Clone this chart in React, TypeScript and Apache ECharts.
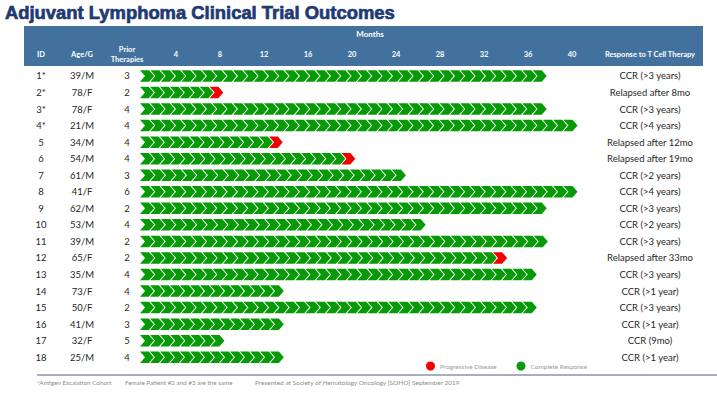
import React, { useEffect, useRef } from "react";
import * as echarts from "echarts";

// ---- data ----
const IDS = ["1*", "2*", "3*", "4*", "5", "6", "7", "8", "9", "10", "11", "12", "13", "14", "15", "16", "17", "18"];
const AGE_G = ["39/M", "78/F", "78/F", "21/M", "34/M", "54/M", "61/M", "41/F", "62/M", "53/M", "39/M", "65/F", "35/M", "73/F", "50/F", "41/M", "32/F", "25/M"];
const PRIOR_THERAPIES = [3, 2, 4, 4, 4, 4, 3, 6, 2, 4, 2, 2, 4, 4, 2, 3, 5, 4];
const RESPONSE = [
  "CCR (>3 years)", "Relapsed after 8mo", "CCR (>3 years)", "CCR (>4 years)",
  "Relapsed after 12mo", "Relapsed after 19mo", "CCR (>2 years)", "CCR (>4 years)",
  "CCR (>3 years)", "CCR (>2 years)", "CCR (>3 years)", "Relapsed after 33mo",
  "CCR (>3 years)", "CCR (>1 year)", "CCR (>3 years)", "CCR (>1 year)",
  "CCR (9mo)", "CCR (>1 year)",
];
// end of follow-up (months, read on the header's month scale)
const FOLLOW_UP_END = [37.7, 8.3, 37.7, 40.5, 13.7, 20.3, 24.9, 40.5, 37.7, 26.7, 37.8, 34.1, 36.8, 13.8, 36.8, 13.8, 8.4, 13.8];
// 1 = progressive disease at the end of follow-up
const PROGRESSED = [0, 1, 0, 0, 1, 1, 0, 0, 0, 0, 0, 1, 0, 0, 0, 0, 0, 0];
const FOLLOW_UP_START = 0.73;
const MONTH_MAX = 40;
const MONTH_STEP = 4;
const CHEVRON_MONTHS = 0.935;

const GREEN = "#069A06";
const RED = "#F20000";
const HEADER = "#41719C";
const FONT = "'Liberation Sans Narrow', Lato, 'Noto Sans', sans-serif";

function makeRender(part: "green" | "red") {
  return (params: any, api: any) => {
    const row = api.value(0);
    const end = api.value(1);
    const prog = api.value(2);
    const s = api.coord([FOLLOW_UP_START, row]);
    const e = api.coord([end, row]);
    const band = api.size([0, 1])[1];
    const h = Math.min(11.5, band * 0.7);
    const d = 5;
    const g = 1.3;
    const wTarget = api.size([CHEVRON_MONTHS, 0])[0];
    const span = e[0] - s[0] - d + g;
    const n = Math.max(1, Math.round(span / wTarget));
    const w = span / n;
    const cy = s[1];
    const children: any[] = [];
    for (let k = 0; k < n; k++) {
      const isLast = k === n - 1;
      const red = isLast && prog === 1;
      if ((part === "red") !== red) continue;
      const xs = s[0] + k * w;
      children.push({
        type: "polygon",
        shape: {
          points: [
            [xs, cy - h / 2],
            [xs + w - g, cy - h / 2],
            [xs + w - g + d, cy],
            [xs + w - g, cy + h / 2],
            [xs, cy + h / 2],
            [xs + d, cy],
          ],
        },
        style: { fill: part === "red" ? RED : GREEN },
      });
    }
    return { type: "group", children };
  };
}

export default function App() {
  const ref = useRef<HTMLDivElement>(null);
  useEffect(() => {
    if (!ref.current) return;
    const chart = echarts.init(ref.current, null, { renderer: "svg" });
    const rows = IDS.map((_, i) => [i, FOLLOW_UP_END[i], PROGRESSED[i]]);
    const gridTop = 67.7;
    const gridBottom = 28.5;
    const labelStyle = { color: "#262626", fontSize: 9.5, fontFamily: FONT };
    const yBase = {
      type: "category",
      inverse: true,
      axisLine: { show: false },
      axisTick: { show: false },
      splitLine: { show: false },
    };
    const option: any = {
      animation: false,
      backgroundColor: "#ffffff",
      grid: { left: 132, width: 440, top: gridTop, bottom: gridBottom },
      xAxis: {
        type: "value",
        position: "top",
        min: 0,
        max: MONTH_MAX,
        interval: MONTH_STEP,
        z: 10,
        axisLine: { show: false },
        axisTick: { show: false },
        splitLine: { show: false },
        axisLabel: {
          margin: 9,
          color: "#ffffff",
          fontWeight: "bold",
          fontSize: 7.5,
          fontFamily: FONT,
          formatter: (v: number) => (v === 0 ? "" : String(v)),
        },
      },
      yAxis: [
        { ...yBase, data: IDS, position: "left", axisLabel: { ...labelStyle, align: "center", margin: 91 } },
        { ...yBase, data: AGE_G, position: "left", axisLabel: { ...labelStyle, align: "center", margin: 50 } },
        { ...yBase, data: PRIOR_THERAPIES.map(String), position: "left", axisLabel: { ...labelStyle, align: "center", margin: 5 } },
        { ...yBase, data: RESPONSE, position: "right", axisLabel: { ...labelStyle, align: "center", margin: 78 } },
      ],
      legend: {
        left: 426,
        top: 361.5,
        padding: 0,
        itemWidth: 9,
        itemHeight: 9,
        itemGap: 20,
        icon: "circle",
        data: ["Progressive Disease", "Complete Response"],
        textStyle: { color: "#9A9A9A", fontSize: 6.5, fontFamily: FONT },
      },
      series: [
        {
          name: "Complete Response",
          type: "custom",
          yAxisIndex: 0,
          itemStyle: { color: GREEN },
          renderItem: makeRender("green"),
          encode: { x: 1, y: 0 },
          data: rows,
        },
        {
          name: "Progressive Disease",
          type: "custom",
          yAxisIndex: 0,
          itemStyle: { color: RED },
          renderItem: makeRender("red"),
          encode: { x: 1, y: 0 },
          data: rows,
        },
      ],
      graphic: [
        {
          type: "text",
          x: 5,
          y: 12,
          style: {
            text: "Adjuvant Lymphoma Clinical Trial Outcomes",
            fill: "#1F3A73",
            stroke: "#1F3A73",
            lineWidth: 0.7,
            verticalAlign: "middle",
            font: "bold 18.4px 'Liberation Sans', Arial, sans-serif",
          },
        },
        {
          type: "rect",
          z: -10,
          shape: { x: 24, y: 26, width: 679, height: 40 },
          style: { fill: HEADER },
        },
        { type: "text", x: 370, y: 34, style: { text: "Months", fill: "#fff", font: `bold 8px ${FONT}`, align: "center", verticalAlign: "middle" } },
        { type: "text", x: 41, y: 54, style: { text: "ID", fill: "#fff", font: `bold 7.5px ${FONT}`, align: "center", verticalAlign: "middle" } },
        { type: "text", x: 82, y: 54, style: { text: "Age/G", fill: "#fff", font: `bold 7.5px ${FONT}`, align: "center", verticalAlign: "middle" } },
        { type: "text", x: 127, y: 54, style: { text: "Prior\nTherapies", fill: "#fff", font: `bold 7.5px ${FONT}`, align: "center", verticalAlign: "middle", lineHeight: 10 } },
        { type: "text", x: 650, y: 54, style: { text: "Response to T Cell Therapy", fill: "#fff", font: `bold 7.5px ${FONT}`, align: "center", verticalAlign: "middle" } },
        {
          type: "line",
          shape: { x1: 37, y1: 375, x2: 717, y2: 375 },
          style: { stroke: "#A9ADBE", lineWidth: 2 },
        },
        { type: "text", x: 37, y: 382, style: { text: "*Antigen Escalation Cohort", fill: "#8C8C8C", font: `6.3px ${FONT}`, verticalAlign: "middle" } },
        { type: "text", x: 125, y: 382, style: { text: "Female Patient #2 and #3 are the same", fill: "#8C8C8C", font: `6.3px ${FONT}`, verticalAlign: "middle" } },
        { type: "text", x: 255, y: 382, style: { text: "Presented at Society of Hematology Oncology [SOHO] September 2019", fill: "#8C8C8C", font: `6.5px ${FONT}`, verticalAlign: "middle" } },
      ],
    };
    chart.setOption(option);
    return () => chart.dispose();
  }, []);
  return (
    <div
      ref={ref}
      style={{ position: "fixed", left: 0, top: 0, width: 717, height: 394, background: "#fff" }}
    />
  );
}
